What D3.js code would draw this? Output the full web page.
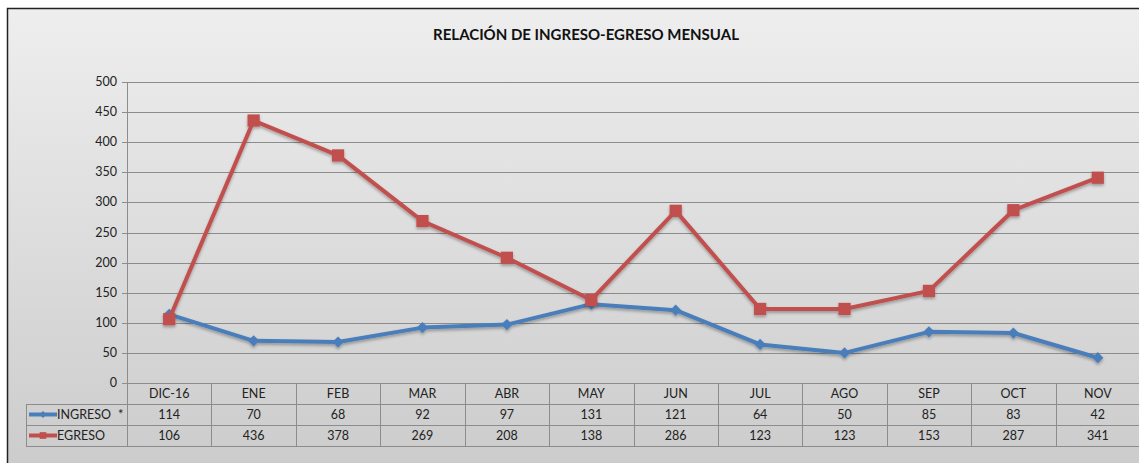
<!DOCTYPE html>
<html>
<head>
<meta charset="utf-8">
<script src="https://cdn.jsdelivr.net/npm/d3@7"></script>
<style>
  body { margin: 0; background: #fff; }
  svg { display: block; font-family: Lato, "Open Sans", sans-serif; }
</style>
</head>
<body>
<svg id="chart" width="1139" height="463"></svg>
<script>
// data
const months = ["DIC-16", "ENE", "FEB", "MAR", "ABR", "MAY", "JUN", "JUL", "AGO", "SEP", "OCT", "NOV"];
const ingreso = [114, 70, 68, 92, 97, 131, 121, 64, 50, 85, 83, 42];
const egreso = [106, 436, 378, 269, 208, 138, 286, 123, 123, 153, 287, 341];
const yTicks = [0, 50, 100, 150, 200, 250, 300, 350, 400, 450, 500];

const series = [
    { name: "INGRESO", values: ingreso, color: "#4a7ebb", marker: "diamond", note: "*" },
    { name: "EGRESO", values: egreso, color: "#c0504d", marker: "square", note: "" }
];

const svg = d3.select("#chart");
const plotLeft = 127, plotRight = 1140, plotTop = 82, plotBottom = 383;
const rowH = 21;
const tableLeft = 26;
const fs = "12.5px";

// background with a soft gradient, like the spreadsheet chart
const defs = svg.append("defs");
const grad = defs.append("linearGradient")
    .attr("id", "bg").attr("x1", 0).attr("y1", 0).attr("x2", 0).attr("y2", 1);
grad.append("stop").attr("offset", "0%").attr("stop-color", "#eeeeee");
grad.append("stop").attr("offset", "100%").attr("stop-color", "#cbcbcb");

svg.append("rect")
    .attr("x", 7.5).attr("y", 8.5)
    .attr("width", 1140).attr("height", 470)
    .attr("fill", "url(#bg)")
    .attr("stroke", "#222")
    .attr("stroke-width", 1.5);

svg.append("text")
    .attr("x", 586).attr("y", 40)
    .attr("text-anchor", "middle")
    .style("font-size", "15px")
    .style("font-weight", "bold")
    .attr("fill", "#111")
    .text("RELACIÓN DE INGRESO-EGRESO MENSUAL");

let x = d3.scaleBand()
    .domain(months)
    .range([plotLeft, plotRight]);

let y = d3.scaleLinear()
    .domain([0, 500])
    .range([plotBottom, plotTop]);

// gridlines
svg.append("g").selectAll("line")
    .data(yTicks)
    .enter()
    .append("line")
    .attr("x1", plotLeft - 5).attr("x2", plotRight)
    .attr("y1", d => Math.round(y(d)) + 0.5)
    .attr("y2", d => Math.round(y(d)) + 0.5)
    .attr("stroke", "#8c8c8c");

svg.append("g").selectAll("text")
    .data(yTicks)
    .enter()
    .append("text")
    .attr("x", plotLeft - 10)
    .attr("y", d => y(d) + 4)
    .attr("text-anchor", "end")
    .style("font-size", fs)
    .attr("fill", "#222")
    .text(d => d);

// data table under the plot
const tableBottom = plotBottom + rowH * 3;
const grid = svg.append("g").attr("stroke", "#8c8c8c").attr("fill", "none");

grid.append("line")
    .attr("x1", plotLeft + 0.5).attr("x2", plotLeft + 0.5)
    .attr("y1", plotTop).attr("y2", tableBottom);

grid.selectAll(".col")
    .data(months)
    .enter()
    .append("line")
    .attr("x1", d => Math.round(x(d) + x.bandwidth()) + 0.5)
    .attr("x2", d => Math.round(x(d) + x.bandwidth()) + 0.5)
    .attr("y1", plotBottom).attr("y2", tableBottom);

[1, 2, 3].forEach(i => {
    grid.append("line")
        .attr("x1", tableLeft).attr("x2", plotRight)
        .attr("y1", plotBottom + rowH * i + 0.5).attr("y2", plotBottom + rowH * i + 0.5);
});
grid.append("line")
    .attr("x1", tableLeft + 0.5).attr("x2", tableLeft + 0.5)
    .attr("y1", plotBottom + rowH).attr("y2", tableBottom);

svg.append("g").selectAll("text")
    .data(months)
    .enter()
    .append("text")
    .attr("x", d => x(d) + x.bandwidth() / 2)
    .attr("y", plotBottom + 15)
    .attr("text-anchor", "middle")
    .style("font-size", fs)
    .attr("fill", "#222")
    .text(d => d);

series.forEach((s, si) => {
    let rowY = plotBottom + rowH * (si + 1);

    let row = svg.append("g");
    row.selectAll("text")
        .data(s.values)
        .enter()
        .append("text")
        .attr("x", (d, i) => x(months[i]) + x.bandwidth() / 2)
        .attr("y", rowY + 15)
        .attr("text-anchor", "middle")
        .style("font-size", fs)
        .attr("fill", "#222")
        .text(d => d);

    // legend key
    row.append("line")
        .attr("x1", 29).attr("x2", 57)
        .attr("y1", rowY + 10.5).attr("y2", rowY + 10.5)
        .attr("stroke", s.color).attr("stroke-width", 4);
    row.append("path")
        .attr("d", d3.symbol().type(s.marker === "square" ? d3.symbolSquare : d3.symbolDiamond2).size(s.marker === "square" ? 45 : 30))
        .attr("transform", "translate(43," + (rowY + 10.5) + ")")
        .attr("fill", s.color);
    row.append("text")
        .attr("x", 57).attr("y", rowY + 15)
        .style("font-size", fs)
        .attr("fill", "#222")
        .text(s.name);
    if (s.note) {
        row.append("text")
            .attr("x", 118).attr("y", rowY + 15)
            .style("font-size", "13px")
            .attr("fill", "#222")
            .text(s.note);
    }
});

// lines and markers
const line = d3.line()
    .x((d, i) => x(months[i]) + x.bandwidth() / 2)
    .y(d => y(d));

const shadow = defs.append("filter").attr("id", "sh")
    .attr("x", "-20%").attr("y", "-20%").attr("width", "140%").attr("height", "160%");
shadow.append("feDropShadow")
    .attr("dx", 0).attr("dy", 2).attr("stdDeviation", 1.5)
    .attr("flood-color", "#000").attr("flood-opacity", 0.3);

series.forEach(s => {
    let g = svg.append("g").attr("filter", "url(#sh)");
    g.append("path")
        .datum(s.values)
        .attr("d", line)
        .attr("fill", "none")
        .attr("stroke", s.color)
        .attr("stroke-width", 4)
        .attr("stroke-linejoin", "round");

    let sym = s.marker === "square"
        ? d3.symbol().type(d3.symbolSquare).size(150)
        : d3.symbol().type(d3.symbolDiamond2).size(80);

    g.selectAll(".pt")
        .data(s.values)
        .enter()
        .append("path")
        .attr("d", sym)
        .attr("transform", (d, i) => "translate(" + (x(months[i]) + x.bandwidth() / 2) + "," + y(d) + ")")
        .attr("fill", s.color);
});
</script>
</body>
</html>
